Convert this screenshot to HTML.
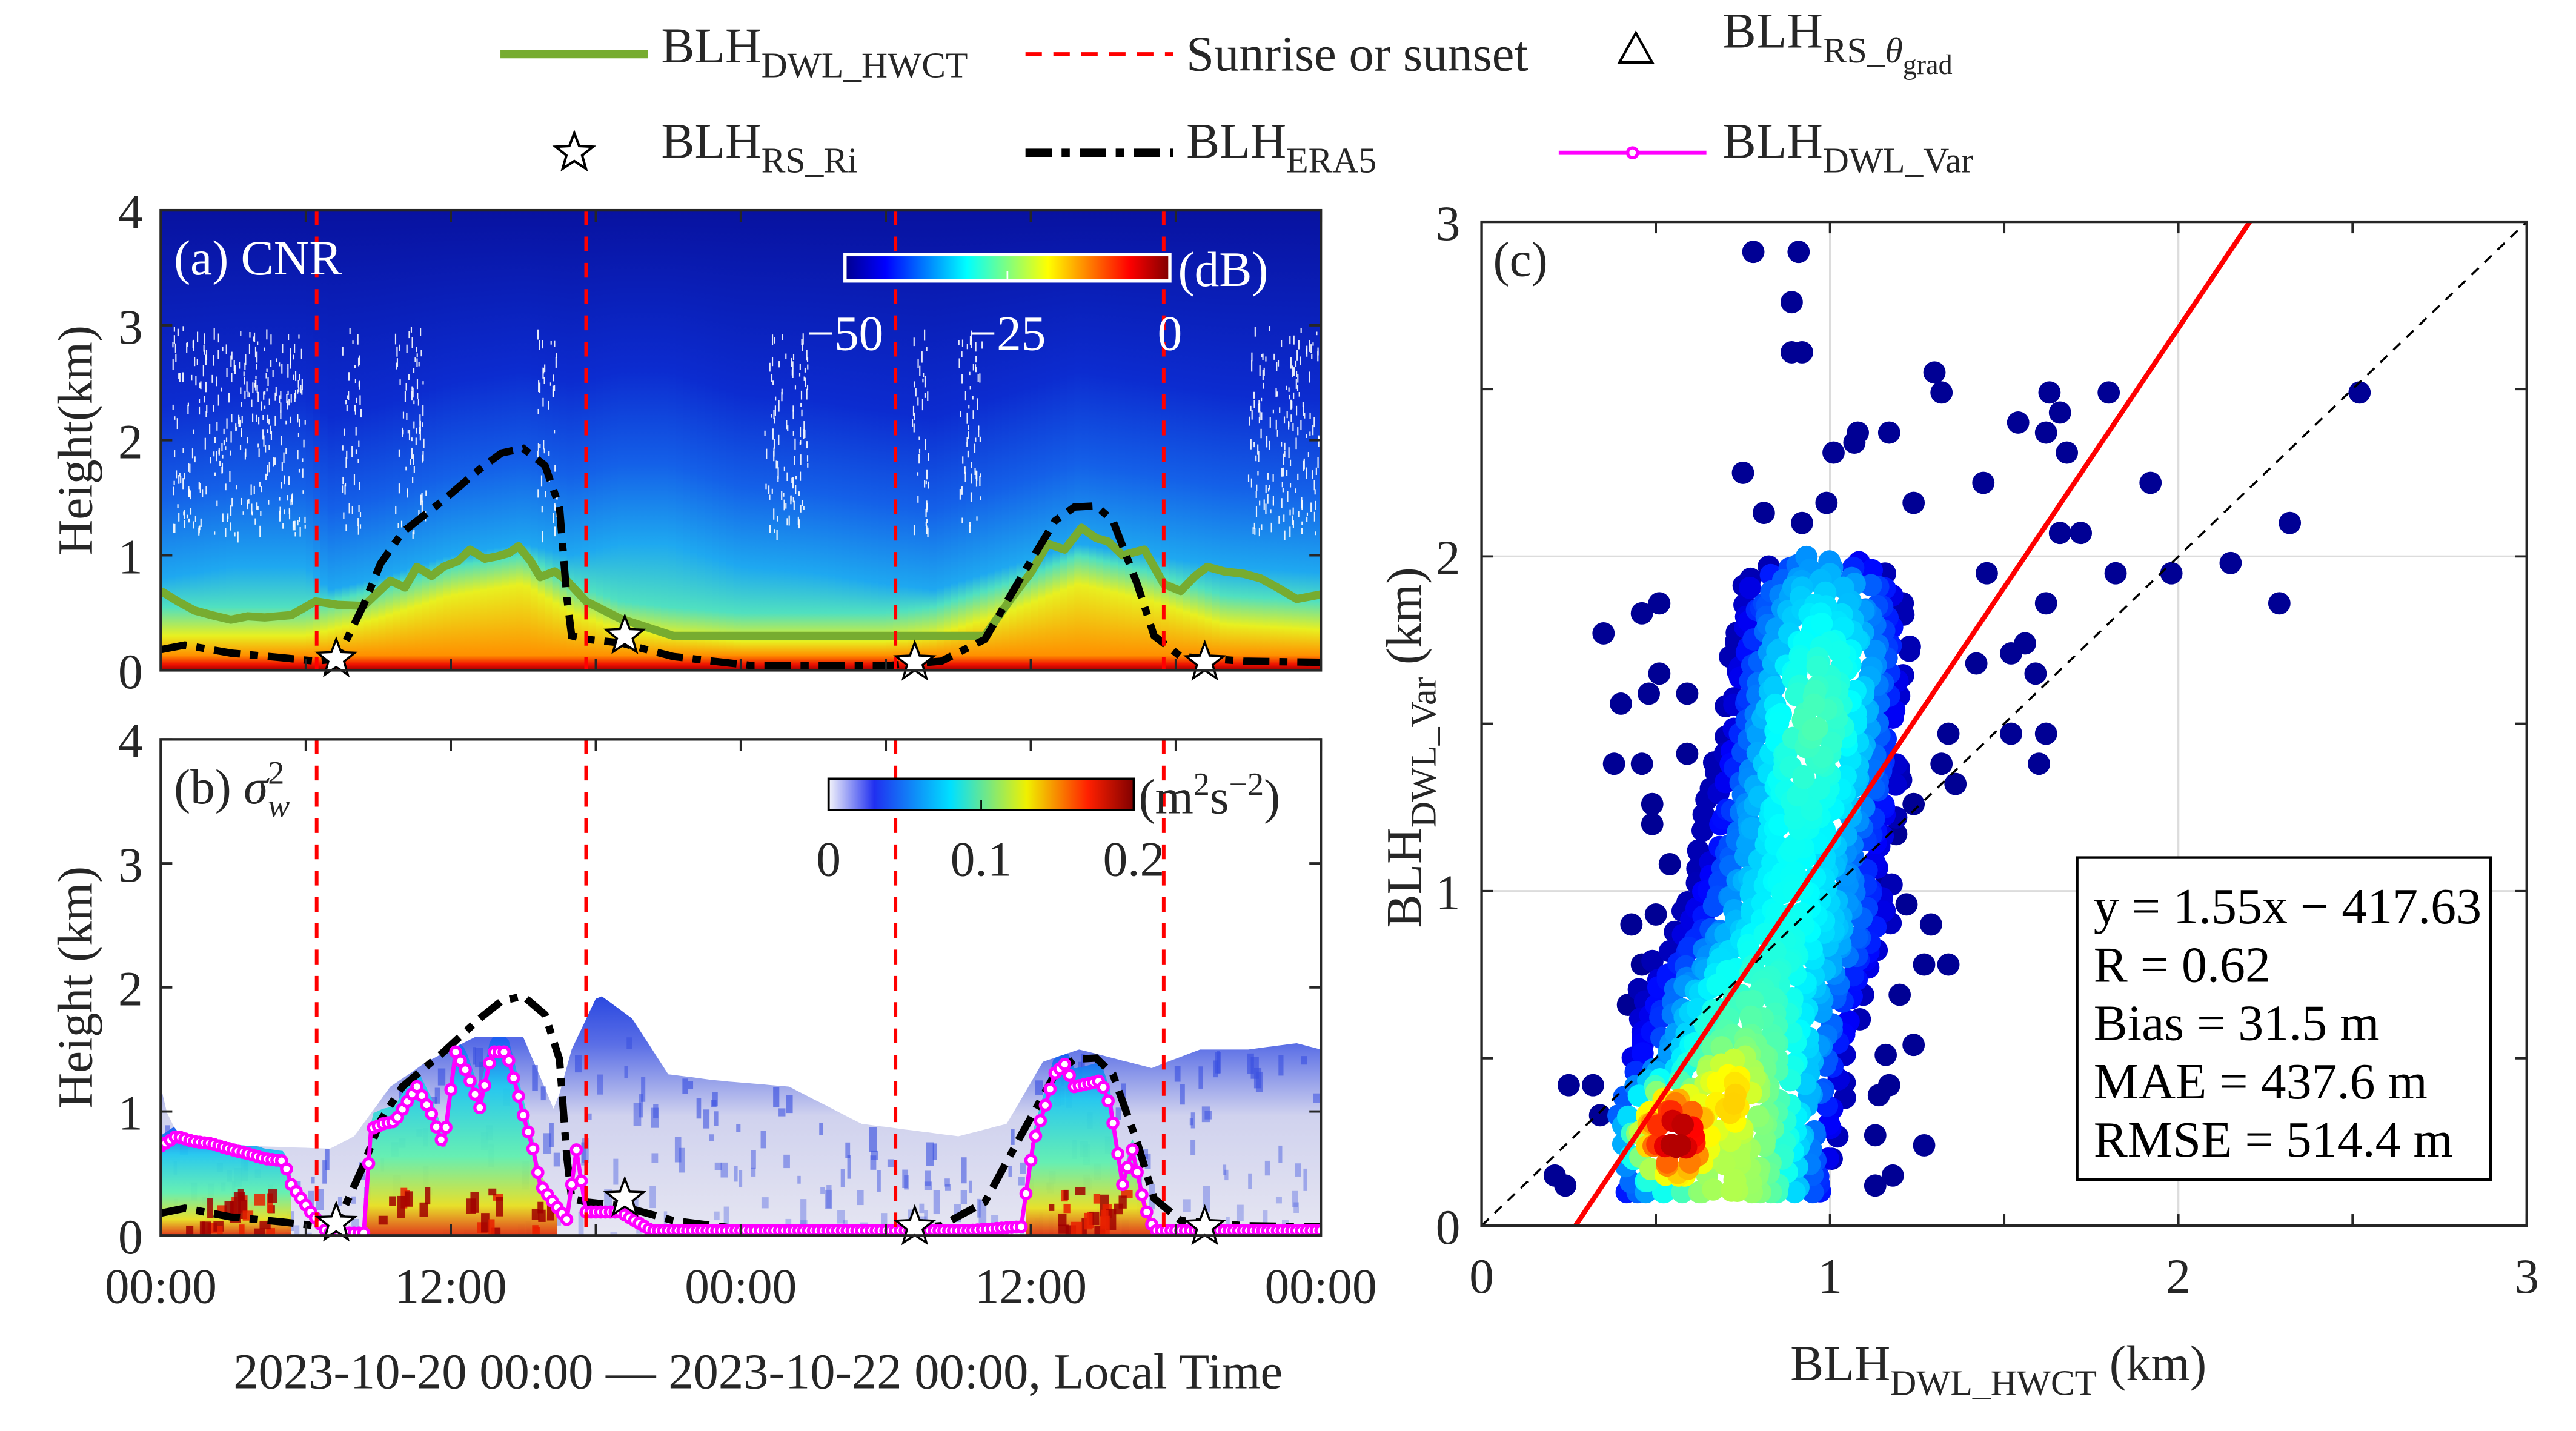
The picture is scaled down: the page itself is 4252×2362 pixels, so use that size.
<!DOCTYPE html>
<html><head><meta charset="utf-8"><style>
html,body{margin:0;padding:0;background:#fff}
svg{display:block}
text{font-family:"Liberation Serif",serif;fill:#262626}
</style></head><body>
<svg id="fig" width="4252" height="2362" viewBox="0 0 1570 871" preserveAspectRatio="none" xmlns="http://www.w3.org/2000/svg">
<defs>
<linearGradient id="jetH" x1="0" x2="1" y1="0" y2="0">
<stop offset="0" stop-color="#00008f"/><stop offset="0.125" stop-color="#0000ff"/><stop offset="0.375" stop-color="#00ffff"/><stop offset="0.625" stop-color="#ffff00"/><stop offset="0.875" stop-color="#ff0000"/><stop offset="1" stop-color="#800000"/>
</linearGradient>
<linearGradient id="sigH" x1="0" x2="1" y1="0" y2="0">
<stop offset="0" stop-color="#f4f4fa"/><stop offset="0.15" stop-color="#2030f0"/><stop offset="0.4" stop-color="#00e0ff"/><stop offset="0.65" stop-color="#f0f000"/><stop offset="0.85" stop-color="#ff2000"/><stop offset="1" stop-color="#800000"/>
</linearGradient>
<linearGradient id="sigBg" x1="0" x2="0" y1="0" y2="1">
<stop offset="0" stop-color="#2a48e0"/><stop offset="0.2" stop-color="#5a6ee6"/><stop offset="0.5" stop-color="#d0d2ee"/><stop offset="1" stop-color="#e6e6f2"/>
</linearGradient>
<linearGradient id="sigDay" x1="0" x2="0" y1="0" y2="1">
<stop offset="0" stop-color="#1a5af0"/><stop offset="0.25" stop-color="#20c8f0"/><stop offset="0.6" stop-color="#60f0b0"/><stop offset="0.85" stop-color="#e8e020"/><stop offset="1" stop-color="#e03010"/>
</linearGradient>
<clipPath id="clipA"><rect x="98" y="128" width="707" height="280"/></clipPath>
<clipPath id="clipB"><rect x="98" y="450" width="707" height="302"/></clipPath>
<clipPath id="clipC"><rect x="903" y="135" width="637" height="611"/></clipPath>
</defs>

<!-- Legend -->
<g>
<g>
<line x1="305" y1="33" x2="395" y2="33" stroke="#77ac30" stroke-width="5"/>
<text x="403" y="38" font-size="30.5">BLH<tspan font-size="22" dy="9">DWL_HWCT</tspan></text></g>
<g>
<line x1="625" y1="33" x2="715" y2="33" stroke="#ff0000" stroke-width="2.5" stroke-dasharray="10,7"/>
<text x="723" y="43" font-size="30.5">Sunrise or sunset</text></g>
<g>
<polygon points="997,20 987,38 1007,38" fill="none" stroke="#000" stroke-width="1.5"/>
<text x="1050" y="29" font-size="30.5">BLH<tspan font-size="22" dy="9">RS_</tspan><tspan font-size="22" font-style="italic">θ</tspan><tspan font-size="17" dy="7">grad</tspan></text></g>
<g>
<polygon id="starLeg" fill="none" stroke="#000" stroke-width="1.5" points=""/>
<text x="403" y="96" font-size="30.5">BLH<tspan font-size="22" dy="9">RS_Ri</tspan></text></g>
<g>
<line x1="625" y1="93" x2="715" y2="93" stroke="#000" stroke-width="5" stroke-dasharray="16,6,5,6"/>
<text x="723" y="96" font-size="30.5">BLH<tspan font-size="22" dy="9">ERA5</tspan></text></g>
<g>
<line x1="950" y1="93" x2="1040" y2="93" stroke="#ff00ff" stroke-width="2.5"/>
<circle cx="995" cy="93" r="3" fill="#fff" stroke="#ff00ff" stroke-width="2"/>
<text x="1050" y="96" font-size="30.5">BLH<tspan font-size="22" dy="9">DWL_Var</tspan></text></g>
</g>

<g id="panelA"></g>
<g id="panelB"></g>
<g id="panelC"></g>
</svg>
<script>
// ---------- DATA ----------
const sunHours = [6.45, 17.6, 30.4, 41.5];
const era5Hours = [0,1,2.9,5,6.4,7.3,8.4,9.1,10,11.7,13.2,14.1,15,15.9,16.5,16.8,17,17.6,19,21.2,24.5,30,32.3,34.1,35.6,37,37.8,38.7,39.4,40.4,41.1,42.2,44.8,48];
const era5Km = [0.18,0.22,0.15,0.11,0.08,0.1,0.57,0.93,1.2,1.48,1.75,1.89,1.93,1.78,1.42,0.63,0.3,0.27,0.24,0.12,0.04,0.04,0.08,0.27,0.81,1.3,1.42,1.43,1.3,0.75,0.3,0.12,0.08,0.07];
const hwctHours = [0,0.7,1.4,2.1,2.9,3.6,4.3,5.4,6.4,7.3,8.4,9.5,10.1,10.6,11.2,11.7,12.3,12.8,13.4,13.9,14.4,14.8,15.3,15.7,16.3,16.8,17.6,19,21.2,34.1,35.2,36,36.7,37.4,38.1,38.7,39.2,39.8,40.7,41.5,42.2,42.8,43.3,44,44.8,45.5,46.2,47,48];
const hwctKm = [0.69,0.6,0.52,0.48,0.44,0.47,0.46,0.48,0.6,0.57,0.56,0.78,0.72,0.9,0.82,0.9,0.95,1.05,0.97,0.99,1.02,1.08,0.95,0.81,0.86,0.78,0.6,0.45,0.3,0.3,0.63,0.85,1.1,1.05,1.24,1.15,1.12,1.0,1.05,0.75,0.69,0.82,0.9,0.86,0.84,0.8,0.72,0.62,0.66];
const varHours = [0,0.66,1.3,2.1,2.8,3.6,4.3,5.1,5.4,6.2,6.9,8.4,8.7,9.2,9.7,10.1,10.6,11.2,11.7,12.2,12.7,13.2,13.7,14.3,14.7,15,15.4,15.7,16.3,16.8,17.2,17.6,19,20.3,33.4,35.6,36.1,36.6,37,37.4,37.8,38.3,38.9,39.3,39.8,40.2,40.7,41.1,48];
const varKm = [0.72,0.8,0.76,0.74,0.7,0.66,0.62,0.6,0.41,0.19,0.02,0.02,0.86,0.9,0.92,1.05,1.2,0.98,0.72,1.48,1.3,1.03,1.48,1.48,1.2,0.97,0.7,0.41,0.25,0.13,0.69,0.19,0.19,0.04,0.04,0.07,0.74,1.05,1.31,1.38,1.2,1.22,1.25,1.03,0.41,0.69,0.24,0.04,0.04];
const starHours = [7.26, 19.2, 31.2, 43.2];
const starKm = [0.1, 0.3, 0.07, 0.07];
const cnrHours = [0,3,6,7,9,12,15,17,19,21,24,27,30,32,35,38,41,44,48];
const cnrCyanTop = [0.8,0.9,0.9,0.7,0.8,1.0,1.1,1.0,1.1,1.1,0.9,0.85,0.75,0.7,0.9,1.1,1.0,0.9,0.85];
const cnrYellowTop = [0.3,0.3,0.3,0.35,0.45,0.65,0.75,0.5,0.35,0.3,0.25,0.25,0.25,0.3,0.5,0.75,0.6,0.4,0.35];
const sigHours = [0,0.3,1,4,7,8,9.5,11,13,15,16.3,17,18.1,19.5,21,23,26,29,31,33,35,36.5,38,40,41,43,45,47,48];
const sigTopKm = [1.2,0.95,0.75,0.72,0.7,0.8,1.2,1.4,1.6,1.6,1.0,1.5,1.95,1.75,1.3,1.25,1.2,0.9,0.85,0.8,0.9,1.4,1.5,1.4,1.35,1.5,1.5,1.55,1.5];
const cloudHours = [[0.5,6],[7.5,8.3],[9.7,11],[15.6,16.4],[25,26.8],[31.1,31.8],[33,34],[45,48]];
const yTicksA = ["0","1","2","3","4"];
const xTickLabels = ["00:00","12:00","00:00","12:00","00:00"];
const cbarALabels = ["\u221250","\u221225","0"];
const cbarBLabels = ["0","0.1","0.2"];
// scatter outliers (km)
const outX = [0.78,0.91,0.89,0.89,0.92,1.30,1.32,1.63,1.66,1.54,1.62,1.68,1.80,2.52,1.08,1.07,1.17,1.01,0.75,1.44,1.92,0.81,0.99,1.24,0.92,2.32,1.66,1.72,2.15,1.98,1.82,1.45,2.29,1.62,0.35,0.46,0.51,0.51,0.40,0.48,0.59,0.38,0.46,0.59,0.49,0.49,0.54,0.43,0.50,0.46,0.42,0.25,0.32,0.34,0.21,0.24,1.52,1.62,1.60,1.59,1.56,1.52,1.42,1.36,1.34,1.32,1.29,1.34,1.27,1.24,1.16,1.17,1.14,1.27,1.13,1.18,1.13,1.19,1.24,1.16,1.22,1.20];
const outY = [2.91,2.91,2.76,2.61,2.61,2.55,2.49,2.49,2.43,2.40,2.37,2.31,2.49,2.49,2.37,2.34,2.37,2.31,2.25,2.22,2.22,2.13,2.16,2.16,2.10,2.10,2.07,2.07,1.98,1.95,1.95,1.95,1.86,1.86,1.77,1.83,1.86,1.65,1.56,1.59,1.59,1.38,1.38,1.41,1.26,1.20,1.08,0.90,0.93,0.78,0.66,0.42,0.42,0.33,0.15,0.12,1.47,1.47,1.38,1.65,1.74,1.71,1.68,1.32,1.47,1.38,0.90,0.78,0.78,0.54,0.51,0.42,0.39,0.24,0.27,0.15,0.12,1.17,1.26,1.02,0.96,0.69];
// core envelope (km)
const coreRowY = [0.1,0.3,0.5,0.7,0.9,1.1,1.3,1.5,1.7,1.9,2.0];
const coreXmin = [0.42,0.40,0.45,0.47,0.58,0.64,0.67,0.71,0.73,0.75,0.85];
const coreXmax = [1.0,1.02,1.05,1.1,1.18,1.15,1.2,1.2,1.22,1.2,1.08];
const coreRowPeak = [0.5,0.5,0.45,0.38,0.34,0.33,0.36,0.4,0.36,0.28,0.22];
const fitSlope = 1.55, fitIntercept = -0.41763;
const statsLines = ["y = 1.55x \u2212 417.63","R = 0.62","Bias = 31.5 m","MAE = 437.6 m","RMSE = 514.4 m"];

// ---------- helpers ----------
const NS="http://www.w3.org/2000/svg";
function mk(tag, parent, attrs){const e=document.createElementNS(NS,tag);for(const k in attrs)e.setAttribute(k,attrs[k]);parent.appendChild(e);return e;}
function interp(xs,ys,x){if(x<=xs[0])return ys[0];for(let i=1;i<xs.length;i++){if(x<=xs[i]){const t=(x-xs[i-1])/(xs[i]-xs[i-1]);return ys[i-1]+t*(ys[i]-ys[i-1]);}}return ys[ys.length-1];}
function cl(v){return Math.max(0,Math.min(1,v));}
function jet(t){const r=cl(1.5-Math.abs(4*t-3)),g=cl(1.5-Math.abs(4*t-2)),b=cl(1.5-Math.abs(4*t-1));return `rgb(${Math.round(r*255)},${Math.round(g*255)},${Math.round(b*255)})`;}
function starPts(cx,cy,R){const p=[];for(let i=0;i<10;i++){const a=-Math.PI/2+i*Math.PI/5;const r=i%2?R*0.42:R;p.push((cx+r*Math.cos(a)).toFixed(1)+","+(cy+r*Math.sin(a)).toFixed(1));}return p.join(" ");}
document.getElementById('starLeg').setAttribute('points',starPts(350,93,12));

const X0=98,X1=805;
const xT=h=>X0+h/48*(X1-X0);
const yA=k=>408-k*70;
const yB=k=>752-k*75.5;
const xC=v=>903+v*(637/3);
const yC=v=>746-v*(611/3);
let seed=7;function rnd(){seed=(seed*16807)%2147483647;return seed/2147483647;}
const FS=30;

// ---------- Panel A ----------
const A=document.getElementById('panelA');
const defs=document.querySelector('defs');
const gA=mk('g',A,{'clip-path':'url(#clipA)'});


const NC=160;
for(let i=0;i<NC;i++){
  const h=(i+0.5)/NC*48;
  const ct=interp(cnrHours,cnrCyanTop,h), yt=interp(cnrHours,cnrYellowTop,h);
  const gid='cg'+i;
  const lg=mk('linearGradient',defs,{id:gid,x1:0,x2:0,y1:0,y2:1});
  const stops=[[4,'#0812a0'],[Math.min(3.9,ct+1.5),'#0c2cd0'],[ct+0.7,'#1460e8'],[ct,'#1ea8f0'],[yt+0.25,'#50e0c0'],[yt,'#e8f020'],[0.13,'#ff9000'],[0.05,'#ee1000'],[0,'#a00000']];
  stops.forEach(s=>mk('stop',lg,{offset:(1-s[0]/4).toFixed(4),'stop-color':s[1]}));
  const w=(X1-X0)/NC;
  mk('rect',gA,{x:(X0+i*w).toFixed(2),y:128,width:(w+0.6).toFixed(2),height:280,fill:`url(#${gid})`});
}
cloudHours.forEach(c=>{const n=Math.round((c[1]-c[0])*55);for(let j=0;j<n;j++){const h=c[0]+rnd()*(c[1]-c[0]);const k=1.2+rnd()*1.8;mk('line',gA,{x1:xT(h).toFixed(1),y1:yA(k).toFixed(1),x2:xT(h).toFixed(1),y2:(yA(k)+2+rnd()*5).toFixed(1),stroke:'#fff','stroke-width':0.8,opacity:0.9});}});
function pathOf(hs,ks,yf){return hs.map((h,i)=>(i?'L':'M')+xT(h).toFixed(1)+','+yf(ks[i]).toFixed(1)).join('');}
const hw=mk('path',gA,{d:pathOf(hwctHours,hwctKm,yA),fill:'none',stroke:'#77ac30','stroke-width':5,'stroke-linejoin':'round'});


const eA=mk('path',gA,{d:pathOf(era5Hours,era5Km,yA),fill:'none',stroke:'#000','stroke-width':4.5,'stroke-dasharray':'16,6,5,6'});


sunHours.forEach(h=>{const l=mk('line',A,{x1:xT(h),x2:xT(h),y1:128,y2:408,stroke:'#ff0000','stroke-width':2.2,'stroke-dasharray':'9,7'});

});
starHours.forEach((h,i)=>{const s=mk('polygon',A,{points:starPts(xT(h),yA(starKm[i]),12),fill:'#fff',stroke:'#000','stroke-width':1.3});

});

// ---------- Panel B ----------
const B=document.getElementById('panelB');
const gB=mk('g',B,{'clip-path':'url(#clipB)'});


let d='M'+xT(0)+','+yB(0);
for(let i=0;i<=192;i++){const h=i/192*48;d+='L'+xT(h).toFixed(1)+','+yB(interp(sigHours,sigTopKm,h)).toFixed(1);}
d+='L'+xT(48)+','+yB(0)+'Z';
mk('path',gB,{d:d,fill:'url(#sigBg)'});
// blue speckle texture
for(let j=0;j<260;j++){const h=rnd()*48;const top=interp(sigHours,sigTopKm,h);const k=rnd()*top;mk('rect',gB,{x:xT(h).toFixed(1),y:yB(k).toFixed(1),width:2+rnd()*3,height:4+rnd()*12,fill:'#3a50e0',opacity:0.25+0.4*(k/top)});}
function activeArea(h0,h1,scale){let p='M'+xT(h0).toFixed(1)+','+yB(0);for(let i=0;i<=60;i++){const h=h0+(h1-h0)*i/60;p+='L'+xT(h).toFixed(1)+','+yB(Math.min(interp(sigHours,sigTopKm,h),interp(varHours,varKm,h)*scale+0.05)).toFixed(1);}p+='L'+xT(h1).toFixed(1)+','+yB(0)+'Z';return p;}
[[0,5.4,1.05],[8.4,16.4,1.08],[35.8,41,1.08]].forEach(r=>mk('path',gB,{d:activeArea(r[0],r[1],r[2]),fill:'url(#sigDay)',opacity:0.95}));
for(let j=0;j<70;j++){const r=[[0.8,4.5],[9,16],[36.5,40]][j%3];const h=r[0]+rnd()*(r[1]-r[0]);const k=0.05+rnd()*0.35;mk('rect',gB,{x:xT(h).toFixed(1),y:yB(k).toFixed(1),width:3+rnd()*4,height:4+rnd()*10,fill:rnd()<0.5?'#a00000':'#e82000',opacity:0.85});}
const eB=mk('path',gB,{d:pathOf(era5Hours,era5Km,yB),fill:'none',stroke:'#000','stroke-width':4.5,'stroke-dasharray':'16,6,5,6'});


const vl=mk('path',gB,{d:pathOf(varHours,varKm,yB),fill:'none',stroke:'#ff00ff','stroke-width':2.5});


for(let i=0;i<=240;i++){const h=i/240*48;const k=interp(varHours,varKm,h);const c=mk('circle',gB,{cx:xT(h).toFixed(1),cy:yB(k).toFixed(1),r:3,fill:'#fff',stroke:'#ff00ff','stroke-width':2});

}
sunHours.forEach(h=>{const l=mk('line',B,{x1:xT(h),x2:xT(h),y1:450,y2:752,stroke:'#ff0000','stroke-width':2.2,'stroke-dasharray':'9,7'});

});
starHours.forEach((h,i)=>{const s=mk('polygon',B,{points:starPts(xT(h),yB(starKm[i]),12),fill:'#fff',stroke:'#000','stroke-width':1.3});

});

function frame(P,top,bot,yf,labelText,labelY){
  mk('rect',P,{x:X0,y:top,width:X1-X0,height:bot-top,fill:'none',stroke:'#262626','stroke-width':1.6});
  yTicksA.forEach((t,i)=>{const y=yf(i);mk('line',P,{x1:X0,x2:X0+7,y1:y,y2:y,stroke:'#262626','stroke-width':1.4});mk('line',P,{x1:X1,x2:X1-7,y1:y,y2:y,stroke:'#262626','stroke-width':1.4});
    const tx=mk('text',P,{x:87,y:y+11,'font-size':FS,'text-anchor':'end'});tx.textContent=t;
    
    });
  for(let h=0;h<=48;h+=6){const x=xT(h);mk('line',P,{x1:x,x2:x,y1:bot,y2:bot-7,stroke:'#262626','stroke-width':1.4});mk('line',P,{x1:x,x2:x,y1:top,y2:top+7,stroke:'#262626','stroke-width':1.4});}
  const yl=mk('text',P,{x:0,y:0,'font-size':FS,'text-anchor':'middle',transform:`translate(56,${labelY}) rotate(-90)`});yl.textContent=labelText;
  
  
}
frame(A,128,408,yA,'Height(km)',268);
frame(B,450,752,yB,'Height (km)',601);
xTickLabels.forEach((t,i)=>{const tx=mk('text',B,{x:xT(i*12),y:793,'font-size':FS,'text-anchor':'middle'});tx.textContent=t;

});
const cap=mk('text',B,{x:462,y:845,'font-size':30.5,'text-anchor':'middle'});cap.textContent='2023-10-20 00:00 \u2014 2023-10-22 00:00, Local Time';


const la=mk('text',A,{x:106,y:167,'font-size':FS,style:'fill:#fff'});la.textContent='(a) CNR';


const lb=mk('text',B,{x:106,y:489,'font-size':FS});lb.innerHTML='(b) <tspan font-style="italic">σ</tspan><tspan font-size="20" dy="-12">2</tspan><tspan font-size="20" font-style="italic" dx="-10" dy="20">w</tspan>';


const cbA=mk('rect',A,{x:515,y:155,width:198,height:16,fill:'url(#jetH)',stroke:'#fff','stroke-width':2});


mk('line',A,{x1:614,x2:614,y1:165,y2:171,stroke:'#fff','stroke-width':1});
cbarALabels.forEach((t,i)=>{const tx=mk('text',A,{x:515+i*99,y:213,'font-size':FS,'text-anchor':'middle',style:'fill:#fff'});tx.textContent=t;

});
const du=mk('text',A,{x:718,y:174,'font-size':FS,style:'fill:#fff'});du.textContent='(dB)';


const cbB=mk('rect',B,{x:505,y:474,width:186,height:19,fill:'url(#sigH)',stroke:'#000','stroke-width':1.4});


mk('line',B,{x1:598,x2:598,y1:487,y2:493,stroke:'#000','stroke-width':1});
cbarBLabels.forEach((t,i)=>{const tx=mk('text',B,{x:505+i*93,y:533,'font-size':FS,'text-anchor':'middle'});tx.textContent=t;

});
const su=mk('text',B,{x:694,y:495,'font-size':FS});su.innerHTML='(m<tspan font-size="20" dy="-11">2</tspan><tspan dy="11">s</tspan><tspan font-size="20" dy="-11">−2</tspan><tspan dy="11">)</tspan>';



// ---------- Panel C ----------
const C=document.getElementById('panelC');
[1,2].forEach(v=>{mk('line',C,{x1:xC(v),x2:xC(v),y1:135,y2:746,stroke:'#dcdcdc','stroke-width':1.2});mk('line',C,{x1:903,x2:1540,y1:yC(v),y2:yC(v),stroke:'#dcdcdc','stroke-width':1.2});});
const gC=mk('g',C,{'clip-path':'url(#clipC)'});


const pts=[];
outX.forEach((x,i)=>pts.push([x,outY[i],0.02]));
for(let y=0.1;y<=2.0001;y+=0.04){
  const xmn=interp(coreRowY,coreXmin,y),xmx=interp(coreRowY,coreXmax,y),pk=interp(coreRowY,coreRowPeak,y);
  const mid=(xmn+xmx)/2,hw2=(xmx-xmn)/2;
  for(let x=xmn;x<=xmx+0.0001;x+=0.032){
    const jx=(rnd()-0.5)*0.05, jy=(rnd()-0.5)*0.04;
    const px=x+jx, py=Math.max(0.1,Math.min(2.0,y+jy));
    const e=Math.min(1,Math.abs(px-mid)/hw2);
    let dd=pk*(1-e*e)+0.05;
    const g1=Math.exp(-(((px-0.56)/0.1)**2+((py-0.27)/0.13)**2)/2);
    const g2=Math.exp(-(((px-0.7)/0.16)**2+((py-0.38)/0.22)**2)/2);
    dd=Math.max(dd,0.98*g1,0.68*g2*(1-0.3*e));
    pts.push([px,py,dd]);
  }
}
pts.sort((a,b)=>a[2]-b[2]);
pts.forEach(p=>{const c=mk('circle',gC,{cx:xC(p[0]).toFixed(1),cy:yC(p[1]).toFixed(1),r:6.8,fill:jet(Math.min(1,p[2]))});

});
const one=mk('line',gC,{x1:xC(0),y1:yC(0),x2:xC(3),y2:yC(3),stroke:'#000','stroke-width':1.3,'stroke-dasharray':'6,5'});


const fx0=-fitIntercept/fitSlope, fx1=(3-fitIntercept)/fitSlope;
const fit=mk('line',gC,{x1:xC(fx0),y1:yC(0),x2:xC(fx1),y2:yC(3),stroke:'#ff0000','stroke-width':3});


mk('rect',C,{x:903,y:135,width:637,height:611,fill:'none',stroke:'#262626','stroke-width':1.6});
for(let v=0;v<=3.001;v+=0.5){
  mk('line',C,{x1:xC(v),x2:xC(v),y1:746,y2:739,stroke:'#262626','stroke-width':1.4});
  mk('line',C,{x1:xC(v),x2:xC(v),y1:135,y2:142,stroke:'#262626','stroke-width':1.4});
  mk('line',C,{x1:903,x2:910,y1:yC(v),y2:yC(v),stroke:'#262626','stroke-width':1.4});
  mk('line',C,{x1:1540,x2:1533,y1:yC(v),y2:yC(v),stroke:'#262626','stroke-width':1.4});
  if(Math.abs(v-Math.round(v))<0.01){
    const tx=mk('text',C,{x:xC(v),y:787,'font-size':FS,'text-anchor':'middle'});tx.textContent=String(Math.round(v));
    
    
    const ty=mk('text',C,{x:890,y:yC(v)+11,'font-size':FS,'text-anchor':'end'});ty.textContent=String(Math.round(v));
    
    
  }
}
const lc=mk('text',C,{x:910,y:168,'font-size':FS});lc.textContent='(c)';


const xl=mk('text',C,{x:1218,y:840,'font-size':30.5,'text-anchor':'middle'});xl.innerHTML='BLH<tspan font-size="22" dy="9">DWL_HWCT</tspan><tspan dy="-9"> (km)</tspan>';


const yl2=mk('text',C,{x:0,y:0,'font-size':30.5,'text-anchor':'middle',transform:'translate(866,455) rotate(-90)'});yl2.innerHTML='BLH<tspan font-size="22" dy="9">DWL_Var</tspan><tspan dy="-9"> (km)</tspan>';


const sb=mk('g',C,{});


mk('rect',sb,{x:1266,y:522,width:252,height:196,fill:'#fff',stroke:'#000','stroke-width':1.6});
statsLines.forEach((s,i)=>{const t=mk('text',sb,{x:1276,y:562+i*35.5,'font-size':31,style:'fill:#000'});t.textContent=s;

});
</script>
</body></html>
